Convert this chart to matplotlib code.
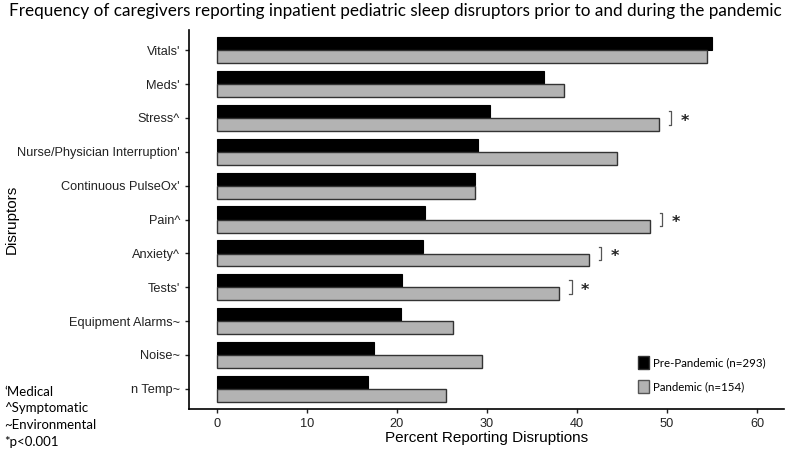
import numpy as np
import matplotlib.pyplot as plt
from matplotlib.patches import Patch

categories = ["Vitals'", "Meds'", "Stress^", "Nurse/Physician Interruption'",
              "Continuous PulseOx'", "Pain^", "Anxiety^", "Tests'",
              "Equipment Alarms~", "Noise~", "n Temp~"]
pre_pandemic = [55.0, 36.3, 30.3, 29.0, 28.7, 23.1, 22.9, 20.6, 20.4, 17.4, 16.8]
pandemic = [54.4, 38.6, 49.1, 44.5, 28.7, 48.1, 41.3, 38.0, 26.2, 29.4, 25.5]
significant = ["Stress^", "Pain^", "Anxiety^", "Tests'"]
footnotes = ["\u2018Medical", "^Symptomatic", "~Environmental", "*p<0.001"]

fig = plt.figure(figsize=(7.9, 4.58), dpi=100)
ax = fig.add_axes([189 / 790, 1 - 409 / 458, (784 - 189) / 790, (409 - 30) / 458])

y = np.arange(len(categories))
h = 0.38
ax.barh(y - 0.195, pre_pandemic, height=h, color='black', edgecolor='black', linewidth=0.8)
ax.barh(y + 0.195, pandemic, height=h, color='#b3b3b3', edgecolor='#333333', linewidth=1.0)

# significance brackets
for c in significant:
    i = categories.index(c)
    x0 = pandemic[i] + 1.4
    ax.plot([x0 - 0.25, x0, x0, x0 - 0.25], [i - 0.2, i - 0.2, i + 0.2, i + 0.2],
            color='#555555', lw=0.9)
    ax.text(x0 + 1.0, i + 0.1, '*', ha='left', va='center', fontsize=11.5,
            family='DejaVu Sans', fontweight='bold', color='#222222')

ax.set_xlim(-3.1, 63)
ax.set_ylim(len(categories) - 0.4, -0.6)
ax.set_xticks([0, 10, 20, 30, 40, 50, 60])
ax.set_yticks(y)
ax.set_yticklabels(categories)
for s in ['top', 'right']:
    ax.spines[s].set_visible(False)
for s in ['left', 'bottom']:
    ax.spines[s].set_linewidth(1.2)
ax.tick_params(axis='both', labelsize=9.2, length=3, width=1, colors='#222222')
for lab in ax.get_xticklabels() + ax.get_yticklabels():
    lab.set_family('Liberation Sans')
ax.set_xlabel('Percent Reporting Disruptions', fontsize=11, family='Liberation Sans', labelpad=1)
ax.set_ylabel('Disruptors', fontsize=11, family='Liberation Sans')
ax.yaxis.set_label_coords(-(189 - 19) / 595, 0.5)

fig.text(0.5, 1 - 11 / 458,
         'Frequency of caregivers reporting inpatient pediatric sleep disruptors prior to and during the pandemic',
         ha='center', va='center', fontsize=12.3, family='Lato')

handles = [Patch(facecolor='black', edgecolor='#333333', label='Pre-Pandemic (n=293)'),
           Patch(facecolor='#b3b3b3', edgecolor='#555555', label='Pandemic (n=154)')]
fig.legend(handles=handles, loc='upper left', bbox_to_anchor=(628 / 790, 1 - 346 / 458),
           frameon=False, prop={'family': 'Lato', 'size': 8.3},
           handlelength=0.9, handleheight=1.3, handletextpad=0.4, labelspacing=1.0)

for k, t in enumerate(footnotes):
    fig.text(4 / 790, 1 - (392 + 16.5 * k) / 458, t, ha='left', va='center',
             fontsize=9.5, family='Lato')

fig.savefig('out.png', dpi=100)
